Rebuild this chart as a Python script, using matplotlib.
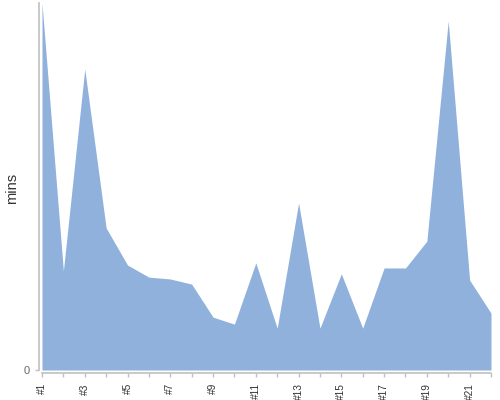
import matplotlib
matplotlib.use("Agg")
import matplotlib.pyplot as plt

categories = ["#%d" % i for i in range(1, 23)]
mins = [100, 27, 82, 38.7, 28.6, 25.3, 24.8, 23.4, 14.4, 12.5, 29.2,
        11.4, 45.5, 11.4, 26.2, 11.4, 27.8, 27.8, 35.1, 95.1, 24.5, 15.5]

plt.rcParams['font.family'] = ['Liberation Sans', 'DejaVu Sans']

fig = plt.figure(figsize=(5, 4), dpi=100)
ax = fig.add_axes([0.084, 0.075, 0.898, 0.9175])
x = list(range(len(categories)))
ax.fill_between(x, mins, 0, color='#8fb1db', linewidth=0)
ax.set_xlim(0, len(categories) - 1)
ax.set_ylim(0, max(mins))

for s in ['top', 'right']:
    ax.spines[s].set_visible(False)
for s in ['left', 'bottom']:
    ax.spines[s].set_position(('outward', 2.5))
    ax.spines[s].set_color('#c0c0c0')
    ax.spines[s].set_linewidth(1.2)

ax.set_xticks(x)
ax.set_xticklabels([c if i % 2 == 0 else '' for i, c in enumerate(categories)],
                   rotation=90, fontsize=7.3, color='#333333')
ax.set_yticks([0])
ax.set_yticklabels(['0'], fontsize=8, color='#666666')
ax.tick_params(axis='both', length=3, color='#c0c0c0', width=1)
ax.tick_params(axis='x', pad=4)
ax.tick_params(axis='y', pad=3)
ax.set_ylabel('mins', fontsize=10.5, color='#333333')
ax.yaxis.set_label_coords(-0.052, 0.495)

fig.savefig('out.png', dpi=100)
